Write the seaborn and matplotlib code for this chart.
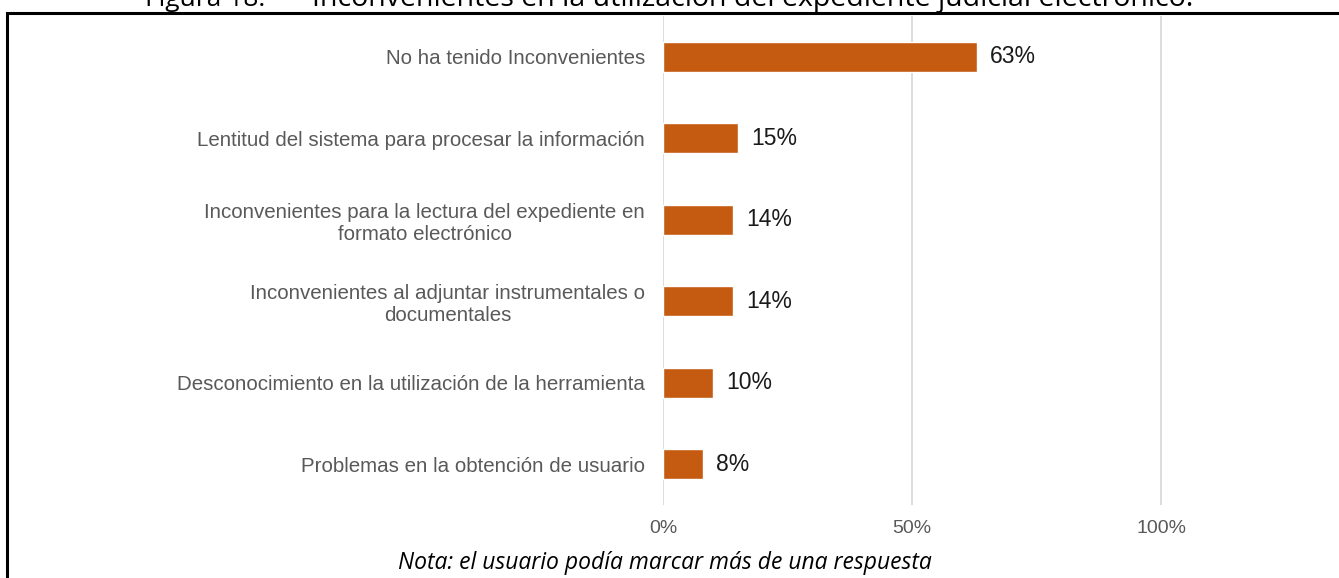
import matplotlib
matplotlib.use("Agg")
import matplotlib.pyplot as plt
import matplotlib.patches as mpatches
import seaborn as sns
import pandas as pd

# data
categories = [
    "No ha tenido Inconvenientes",
    "Lentitud del sistema para procesar la información",
    "Inconvenientes para la lectura del expediente en\nformato electrónico",
    "Inconvenientes al adjuntar instrumentales o\ndocumentales",
    "Desconocimiento en la utilización de la herramienta",
    "Problemas en la obtención de usuario",
]
values = [0.63, 0.15, 0.14, 0.14, 0.10, 0.08]
tick_values = [0, 0.5, 1.0]
tick_labels = ["0%", "50%", "100%"]

fig_label = "Figura 18."
title_text = "Inconvenientes en la utilización del expediente judicial electrónico."
note_text = "Nota: el usuario podía marcar más de una respuesta"

df = pd.DataFrame({"categoria": categories, "valor": values})

sns.set_style("white")
plt.rcParams["font.family"] = ["Liberation Sans", "DejaVu Sans"]

W, H = 1339, 578
fig = plt.figure(figsize=(W / 100, H / 100), dpi=100)

# axes placed in pixel terms
left, right, top, bottom = 663, 1310, 16, 505
ax = fig.add_axes([left / W, 1 - bottom / H, (right - left) / W, (bottom - top) / H])

sns.barplot(data=df, x="valor", y="categoria", color="#C55A11", width=0.37,
            saturation=1, ax=ax, zorder=3)

ax.set_xlim(0, (right - left) / 498)
ax.set_ylim(len(categories) - 0.5, -0.5)
ax.set_xticks(tick_values)
ax.set_xticklabels(tick_labels, color="#595959", fontsize=14)
ax.tick_params(axis="x", length=0, pad=11)
ax.tick_params(axis="y", length=0, pad=13)
ax.set_yticklabels(categories, color="#595959", fontsize=14.8,
                   multialignment="center", linespacing=1.2)
ax.set_xlabel("")
ax.set_ylabel("")
for s in ax.spines.values():
    s.set_visible(False)
ax.grid(axis="x", color="#D9D9D9", linewidth=1.3, zorder=0)
ax.set_axisbelow(True)

for i, v in enumerate(values):
    ax.text(v + 0.027, i, f"{round(v * 100)}%", va="center", ha="left",
            fontsize=16.5, color="#1a1a1a")

# outer frame of the figure box
frame = mpatches.Rectangle((7 / W, -0.01), 1.0, 1 - 12.5 / H + 0.01,
                           transform=fig.transFigure, fill=False,
                           edgecolor="black", linewidth=2.2)
fig.patches.append(frame)

# caption text in a Calibri-like face (top one is cut by the page edge, as in the source)
cap_font = ["Open Sans", "DejaVu Sans"]
fig.text(145 / W, 1 - 6 / H, fig_label, ha="left", va="baseline",
         fontsize=19, family=cap_font, color="black")
fig.text(312 / W, 1 - 6 / H, title_text, ha="left", va="baseline",
         fontsize=20.5, family=cap_font, color="black")
fig.text(665 / W, 1 - 563 / H, note_text, ha="center", va="center",
         fontsize=16.5, style="italic", family=cap_font, color="black")

fig.savefig("out.png", dpi=100)
